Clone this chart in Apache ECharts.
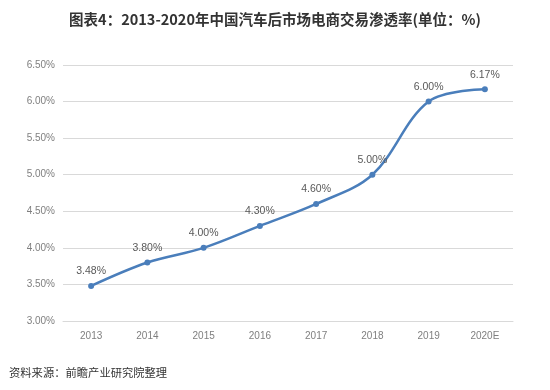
<!DOCTYPE html>
<html><head><meta charset="utf-8">
<script src="https://cdn.jsdelivr.net/npm/echarts@6/dist/echarts.min.js"></script>
<style>html,body{margin:0;padding:0;background:#fff}#c{width:550px;height:390px}</style>
</head><body><div id="c"></div>
<script>
const categories = ['2013','2014','2015','2016','2017','2018','2019','2020E'];
const rates = [3.48, 3.80, 4.00, 4.30, 4.60, 5.00, 6.00, 6.17];
const titleText = '图表4：2013-2020年中国汽车后市场电商交易渗透率(单位：%)';
const sourceText = '资料来源：前瞻产业研究院整理';

const chart = echarts.init(document.getElementById('c'));
chart.setOption({
  backgroundColor: '#fff',
  title: [{
    text: titleText, left: 'center', top: 7,
    textStyle: {fontFamily: 'Noto Sans CJK SC', fontWeight: 'bold', fontSize: 14.5, color: '#333'}
  }, {
    text: sourceText, left: 4, top: 362,
    textStyle: {fontFamily: 'Noto Sans CJK SC', fontWeight: 'normal', fontSize: 11.3, color: '#333'}
  }],
  grid: {left: 63, right: 37, top: 65, bottom: 69},
  xAxis: {
    type: 'category', data: categories, boundaryGap: true,
    axisLine: {show: true, lineStyle: {color: '#d9d9d9'}},
    axisTick: {show: false},
    axisLabel: {color: '#7f7f7f', fontSize: 10, margin: 10, fontFamily: 'Liberation Sans'}
  },
  yAxis: {
    type: 'value', min: 3, max: 6.5, interval: 0.5,
    axisLine: {show: false}, axisTick: {show: false},
    splitLine: {lineStyle: {color: '#d9d9d9'}},
    axisLabel: {color: '#7f7f7f', fontSize: 10, margin: 8, fontFamily: 'Liberation Sans',
      formatter: v => v.toFixed(2) + '%'}
  },
  series: [{
    type: 'line', data: rates, smooth: 0.35,
    symbol: 'circle', symbolSize: 6,
    lineStyle: {color: '#4a7ebb', width: 2.5},
    itemStyle: {color: '#4a7ebb'},
    label: {show: true, position: 'top', distance: 6, color: '#595959', fontSize: 10.5,
      fontFamily: 'Liberation Sans', formatter: p => p.value.toFixed(2) + '%'}
  }]
});
</script></body></html>
